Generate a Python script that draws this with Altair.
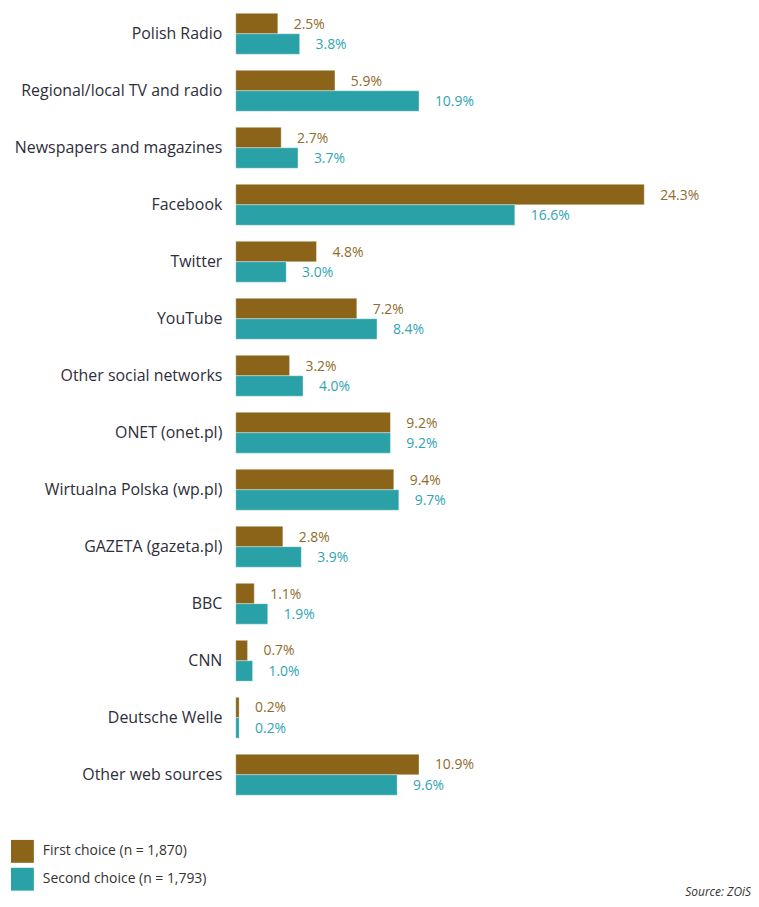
import altair as alt
import pandas as pd

categories = [
    "Polish Radio", "Regional/local TV and radio", "Newspapers and magazines",
    "Facebook", "Twitter", "YouTube", "Other social networks", "ONET (onet.pl)",
    "Wirtualna Polska (wp.pl)", "GAZETA (gazeta.pl)", "BBC", "CNN",
    "Deutsche Welle", "Other web sources",
]
first_choice = [2.5, 5.9, 2.7, 24.3, 4.8, 7.2, 3.2, 9.2, 9.4, 2.8, 1.1, 0.7, 0.2, 10.9]
second_choice = [3.8, 10.9, 3.7, 16.6, 3.0, 8.4, 4.0, 9.2, 9.7, 3.9, 1.9, 1.0, 0.2, 9.6]
series_names = ["First choice (n = 1,870)", "Second choice (n = 1,793)"]

rows = []
for i, c in enumerate(categories):
    rows.append({"category": c, "series": series_names[0], "value": first_choice[i]})
    rows.append({"category": c, "series": series_names[1], "value": second_choice[i]})
df = pd.DataFrame(rows)
df["label"] = df["value"].map(lambda v: f"{v:.1f}%")

bar_colors = ["#8b641a", "#2aa0a7"]
text_colors = ["#8f6c2c", "#2fa4b6"]

FONT = "Open Sans"

y_enc = alt.Y("category:N", sort=categories, title=None,
              scale=alt.Scale(paddingInner=0.283, paddingOuter=0),
              axis=alt.Axis(domain=False, ticks=False, grid=False, labelFontSize=16,
                            labelFont=FONT, labelColor="#2e2e3a", labelPadding=14,
                            labelLimit=400))
x_enc = alt.X("value:Q", axis=None, scale=alt.Scale(domain=[0, 30.65], nice=False, zero=True))
yoff = alt.YOffset("series:N", sort=series_names, scale=alt.Scale(paddingInner=0, paddingOuter=0))

bars = alt.Chart(df).mark_bar(stroke="#ffffff", strokeOpacity=0.35, strokeWidth=1).encode(
    y=y_enc,
    x=x_enc,
    yOffset=yoff,
    color=alt.Color("series:N", sort=series_names,
                    scale=alt.Scale(domain=series_names, range=bar_colors),
                    legend=alt.Legend(title=None, orient="none", legendX=-226, legendY=831,
                                      symbolType="square", symbolSize=529,
                                      symbolStrokeWidth=0, labelFontSize=14, labelFont=FONT,
                                      labelColor="#333333", labelOffset=9, rowPadding=5,
                                      labelLimit=400,
                                      padding=0, direction="vertical")),
)

texts = alt.Chart(df).mark_text(align="left", baseline="middle", dx=16, dy=1,
                                 fontSize=14, font=FONT).encode(
    y=y_enc,
    x=x_enc,
    yOffset=yoff,
    text="label:N",
    color=alt.Color("series:N", sort=series_names,
                    scale=alt.Scale(domain=series_names, range=text_colors), legend=None),
)

chart = alt.layer(bars, texts).resolve_scale(color="independent").properties(
    width=518,
    height=786,
    padding={"left": 229, "top": 3, "right": 0, "bottom": 102},
    autosize=alt.AutoSizeParams(type="none"),
    title=alt.TitleParams(text="Source: ZOiS", orient="bottom", anchor="end",
                          fontSize=12, fontStyle="italic", fontWeight="normal",
                          font=FONT, color="#333333", offset=-4, frame="group"),
).configure_view(stroke=None)

chart.save("out.html", embed_options={"renderer": "svg", "actions": False})
